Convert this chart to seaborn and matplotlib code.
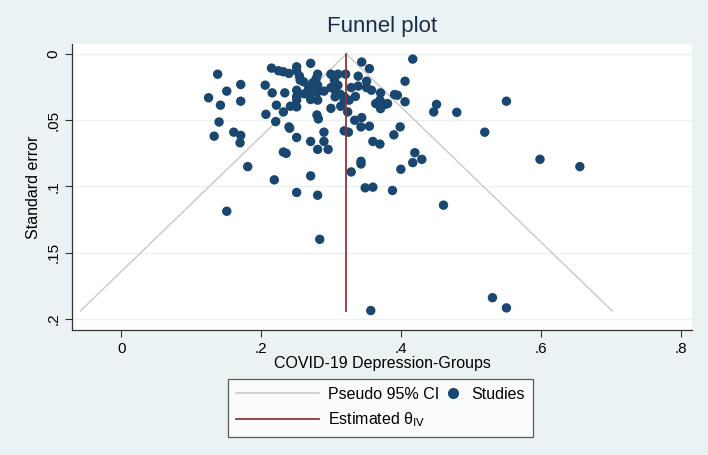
import numpy as np
import pandas as pd
import matplotlib
matplotlib.use('Agg')
import matplotlib.pyplot as plt
import seaborn as sb
from matplotlib.lines import Line2D
from matplotlib.legend_handler import HandlerBase

# effect sizes (x) and standard errors (y)
effect = [0.138, 0.125, 0.151, 0.171, 0.142, 0.171, 0.140, 0.133, 0.161, 0.171,
          0.170, 0.181, 0.206, 0.207, 0.215, 0.225, 0.232, 0.240, 0.251, 0.251,
          0.255, 0.256, 0.261, 0.271, 0.281, 0.279, 0.274, 0.271, 0.268, 0.281,
          0.271, 0.281, 0.271, 0.281, 0.300, 0.310, 0.305, 0.310, 0.300, 0.306,
          0.313, 0.319, 0.306, 0.319, 0.326, 0.314, 0.321, 0.234, 0.216, 0.251,
          0.251, 0.251, 0.242, 0.251, 0.232, 0.222, 0.329, 0.339, 0.351, 0.351,
          0.339, 0.358, 0.221, 0.240, 0.241, 0.251, 0.232, 0.236, 0.219, 0.271,
          0.251, 0.281, 0.271, 0.281, 0.290, 0.290, 0.296, 0.280, 0.282, 0.300,
          0.319, 0.325, 0.324, 0.344, 0.355, 0.334, 0.344, 0.343, 0.355, 0.360,
          0.370, 0.343, 0.343, 0.329, 0.349, 0.360, 0.388, 0.390, 0.399, 0.400,
          0.417, 0.420, 0.430, 0.371, 0.370, 0.364, 0.378, 0.371, 0.381, 0.391,
          0.395, 0.406, 0.406, 0.417, 0.451, 0.447, 0.480, 0.520, 0.551, 0.599,
          0.656, 0.151, 0.461, 0.284, 0.531, 0.551, 0.357, 0.290, 0.262, 0.335]
std_err = [0.0152, 0.0330, 0.0280, 0.0230, 0.0386, 0.0356, 0.0513, 0.0620, 0.0590, 0.0614,
           0.0670, 0.0850, 0.0235, 0.0455, 0.0106, 0.0126, 0.0134, 0.0146, 0.0096, 0.0126,
           0.0167, 0.0197, 0.0210, 0.0070, 0.0152, 0.0184, 0.0217, 0.0242, 0.0260, 0.0235,
           0.0298, 0.0285, 0.0343, 0.0348, 0.0152, 0.0152, 0.0197, 0.0235, 0.0253, 0.0273,
           0.0303, 0.0323, 0.0323, 0.0348, 0.0348, 0.0394, 0.0152, 0.0293, 0.0293, 0.0273,
           0.0323, 0.0348, 0.0394, 0.0399, 0.0437, 0.0386, 0.0253, 0.0242, 0.0253, 0.0205,
           0.0167, 0.0273, 0.0510, 0.0550, 0.0560, 0.0630, 0.0740, 0.0750, 0.0950, 0.0920,
           0.1045, 0.1066, 0.0660, 0.0720, 0.0660, 0.0590, 0.0720, 0.0460, 0.0490, 0.0410,
           0.0580, 0.0590, 0.0437, 0.0060, 0.0110, 0.0500, 0.0480, 0.0550, 0.0545, 0.0660,
           0.0680, 0.0830, 0.0810, 0.0890, 0.1010, 0.1005, 0.1030, 0.0610, 0.0550, 0.0870,
           0.0820, 0.0745, 0.0795, 0.0293, 0.0348, 0.0374, 0.0379, 0.0412, 0.0374, 0.0306,
           0.0311, 0.0205, 0.0360, 0.0038, 0.0380, 0.0437, 0.0440, 0.0590, 0.0356, 0.0795,
           0.0850, 0.1187, 0.1141, 0.1399, 0.1840, 0.1917, 0.1937, 0.0280, 0.0300, 0.0320]

theta_iv = 0.322     # estimated effect
se_max = 0.194       # largest standard error (funnel bottom)

x_ticks = [0, 0.2, 0.4, 0.6, 0.8]
x_labels = ['0', '.2', '.4', '.6', '.8']
y_ticks = [0, 0.05, 0.1, 0.15, 0.2]
y_labels = ['0', '.05', '.1', '.15', '.2']

df = pd.DataFrame({'effect': effect, 'se': std_err})

# pseudo 95% CI funnel lines
funnel = pd.DataFrame({
    'x': [theta_iv - 1.96 * se_max, theta_iv, theta_iv + 1.96 * se_max],
    'y': [se_max, 0, se_max],
})
est = pd.DataFrame({'x': [theta_iv, theta_iv], 'y': [0, se_max]})

bg = '#EAF2F3'
navy = '#1A476F'
maroon = '#90353B'
grey = '#C8C8C8'


# put the "Studies" dot at the right end of its handle, like Stata does
class RightDot(HandlerBase):
    def create_artists(self, legend, orig, xdescent, ydescent, width, height,
                       fontsize, trans):
        dot = Line2D([width - xdescent - 6], [height / 2 - ydescent], marker='o',
                     color=navy, ls='none', markersize=7, transform=trans)
        return [dot]


plt.rcParams['font.family'] = ['Liberation Sans', 'DejaVu Sans']

fig = plt.figure(figsize=(7.08, 4.55), dpi=100, facecolor=bg)
ax = fig.add_axes([0.102, 0.275, 0.876, 0.628])
ax.set_facecolor('white')

for yt in y_ticks:
    ax.axhline(yt, color=bg, lw=1.0, zorder=0)

sb.lineplot(data=funnel, x='x', y='y', color=grey, lw=1.0, sort=False,
            estimator=None, ax=ax, zorder=1)
sb.scatterplot(data=df, x='effect', y='se', color=navy, s=46, edgecolor='none',
               ax=ax, zorder=2)
sb.lineplot(data=est, x='x', y='y', color=maroon, lw=1.3, sort=False,
            estimator=None, ax=ax, zorder=3)

ax.set_xlim(-0.07, 0.817)
ax.set_ylim(0.2083, -0.0075)
ax.set_xticks(x_ticks)
ax.set_xticklabels(x_labels)
ax.set_yticks(y_ticks)
ax.set_yticklabels(y_labels, rotation=90, va='center')
ax.tick_params(labelsize=11, color='#333333', length=5, width=0.8)
ax.set_xlabel('COVID-19 Depression-Groups', fontsize=11.5, labelpad=0)
ax.set_ylabel('Standard error', fontsize=11.5, labelpad=4)
ax.set_title('Funnel plot', fontsize=16, color='#1E2B4A', pad=9)

for side in ['top', 'right']:
    ax.spines[side].set_visible(False)
for side in ['left', 'bottom']:
    ax.spines[side].set_color('#333333')
    ax.spines[side].set_linewidth(0.9)

ci_h = Line2D([], [], color=grey, lw=1.2)
est_h = Line2D([], [], color=maroon, lw=1.3)
stud_h = Line2D([], [], color=navy, marker='o', ls='none')
handles = [ci_h, est_h, stud_h]
labels = ['Pseudo 95% CI', 'Estimated θ$_{\\mathrm{IV}}$', 'Studies']
leg = fig.legend(handles, labels, ncol=2, loc='center', bbox_to_anchor=(0.537, 0.103),
                 fontsize=11.5, frameon=True, fancybox=False, edgecolor='#333333',
                 handlelength=5.2, columnspacing=-3.8, handletextpad=0.6,
                 borderpad=0.5, labelspacing=0.55, handler_map={stud_h: RightDot()})
leg.get_frame().set_linewidth(0.9)
leg.get_frame().set_facecolor('white')

fig.savefig('out.png', dpi=100, facecolor=bg)
